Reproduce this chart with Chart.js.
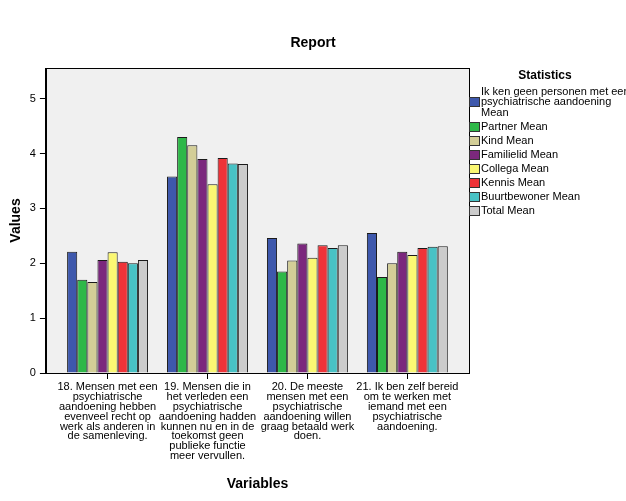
<!DOCTYPE html>
<html>
<head>
<meta charset="utf-8">
<script src="https://cdn.jsdelivr.net/npm/chart.js@4"></script>
<style>
  body { margin: 0; background: #fff; }
  canvas { display: block; }
</style>
</head>
<body>
<canvas id="chart" width="626" height="501"></canvas>
<script>
// categories (tick labels, wrapped as in the original)
const categories = [
  ["18. Mensen met een", "psychiatrische", "aandoening hebben", "evenveel recht op", "werk als anderen in", "de samenleving."],
  ["19. Mensen die in", "het verleden een", "psychiatrische", "aandoening hadden", "kunnen nu en in de", "toekomst geen", "publieke functie", "meer vervullen."],
  ["20. De meeste", "mensen met een", "psychiatrische", "aandoening willen", "graag betaald werk", "doen."],
  ["21. Ik ben zelf bereid", "om te werken met", "iemand met een", "psychiatrische", "aandoening."]
];

// legend names (wrapped as in the original)
const seriesNames = [
  ["Ik ken geen personen met een", "psychiatrische aandoening", "Mean"],
  ["Partner Mean"],
  ["Kind Mean"],
  ["Familielid Mean"],
  ["Collega Mean"],
  ["Kennis Mean"],
  ["Buurtbewoner Mean"],
  ["Total Mean"]
];

const ikKenGeen    = [2.21, 3.58, 2.46, 2.55];
const partner      = [1.70, 4.30, 1.85, 1.75];
const kind         = [1.66, 4.15, 2.05, 2.00];
const familielid   = [2.06, 3.90, 2.36, 2.21];
const collega      = [2.20, 3.44, 2.10, 2.15];
const kennis       = [2.03, 3.92, 2.33, 2.28];
const buurtbewoner = [2.00, 3.82, 2.28, 2.30];
const total        = [2.06, 3.81, 2.33, 2.31];

const yTicks = [0, 1, 2, 3, 4, 5];

const colors = ["#3E58AC", "#2EB848", "#D3CE97", "#7B287D", "#FBF873", "#EF3338", "#48C2C5", "#CCCCCC"];
const allSeries = [ikKenGeen, partner, kind, familielid, collega, kennis, buurtbewoner, total];

const FONT = "'Liberation Sans', Arial, sans-serif";

const datasets = allSeries.map((vals, i) => ({
  label: seriesNames[i].join(" "),
  legendLines: seriesNames[i],
  data: vals.map((v, j) => ({ x: j, y: v })),
  backgroundColor: colors[i],
  borderColor: "#1a1a1a",
  borderWidth: 1,
  borderSkipped: "bottom",
  categoryPercentage: 0.81,
  barPercentage: 1.0
}));

// grey plot background + frame + title
const plotFrame = {
  id: "plotFrame",
  beforeDraw(chart) {
    const { ctx, chartArea: a } = chart;
    ctx.save();
    ctx.fillStyle = "#F0F0F0";
    ctx.fillRect(a.left, a.top, a.right - a.left, a.bottom - a.top);
    ctx.fillStyle = "#000";
    ctx.font = "bold 14px " + FONT;
    ctx.textAlign = "center";
    ctx.textBaseline = "middle";
    ctx.fillText("Report", 313, 43);
    ctx.restore();
  },
  afterDraw(chart) {
    const { ctx, chartArea: a } = chart;
    ctx.save();
    ctx.strokeStyle = "#000";
    ctx.lineWidth = 1;
    ctx.strokeRect(Math.round(a.left) + 0.5, Math.round(a.top) + 0.5,
      Math.round(a.right - a.left), Math.round(a.bottom - a.top));
    ctx.restore();
  }
};

// legend on the right, SPSS style
const sideLegend = {
  id: "sideLegend",
  afterDraw(chart) {
    const ctx = chart.ctx;
    const x0 = Math.round(chart.chartArea.right);
    ctx.save();
    ctx.fillStyle = "#000";
    ctx.font = "bold 12px " + FONT;
    ctx.textAlign = "center";
    ctx.textBaseline = "middle";
    ctx.fillText("Statistics", 545, 76);

    ctx.font = "11px " + FONT;
    ctx.textAlign = "left";
    const lh = 10.3;
    let y = 92;
    chart.data.datasets.forEach((ds) => {
      const lines = ds.legendLines;
      ctx.fillStyle = "#000";
      lines.forEach((ln, k) => ctx.fillText(ln, x0 + 12, y + k * lh));
      const mid = y + (lines.length - 1) * lh / 2;
      const by = Math.round(mid - 5) + 0.5;
      ctx.fillStyle = ds.backgroundColor;
      ctx.fillRect(x0 + 0.5, by, 10, 9);
      ctx.strokeStyle = "#333";
      ctx.lineWidth = 1;
      ctx.strokeRect(x0 + 0.5, by, 10, 9);
      y += (lines.length - 1) * lh + 14;
    });
    ctx.restore();
  }
};

new Chart(document.getElementById("chart"), {
  type: "bar",
  data: { datasets: datasets },
  options: {
    responsive: false,
    animation: false,
    layout: { padding: { left: 1, right: 157, top: 68, bottom: 8 } },
    plugins: {
      legend: { display: false },
      tooltip: { enabled: false },
      title: { display: false }
    },
    scales: {
      x: {
        type: "linear",
        min: -0.617,
        max: 3.617,
        offset: false,
        afterBuildTicks(scale) {
          scale.ticks = categories.map((c, i) => ({ value: i }));
        },
        ticks: {
          color: "#000",
          autoSkip: false,
          maxRotation: 0,
          padding: 3,
          font: { family: FONT, size: 11, lineHeight: 0.9 },
          callback: (v) => categories[v]
        },
        grid: { display: true, offset: false, drawOnChartArea: false, drawTicks: true, tickLength: 6, color: "#000" },
        border: { color: "#000" },
        title: {
          display: true,
          text: "Variables",
          color: "#000",
          font: { family: FONT, size: 14, weight: "bold" },
          padding: { top: 12, bottom: 0 }
        }
      },
      y: {
        min: 0,
        max: 5.56,
        afterBuildTicks(scale) {
          scale.ticks = yTicks.map((v) => ({ value: v }));
        },
        ticks: {
          color: "#000",
          padding: 4,
          font: { family: FONT, size: 11 }
        },
        grid: { display: true, drawOnChartArea: false, drawTicks: true, tickLength: 6, color: "#000" },
        border: { color: "#000" },
        title: {
          display: true,
          text: "Values",
          color: "#000",
          font: { family: FONT, size: 14, weight: "bold" },
          padding: { top: 7, bottom: 1 }
        }
      }
    }
  },
  plugins: [plotFrame, sideLegend]
});
</script>
</body>
</html>
